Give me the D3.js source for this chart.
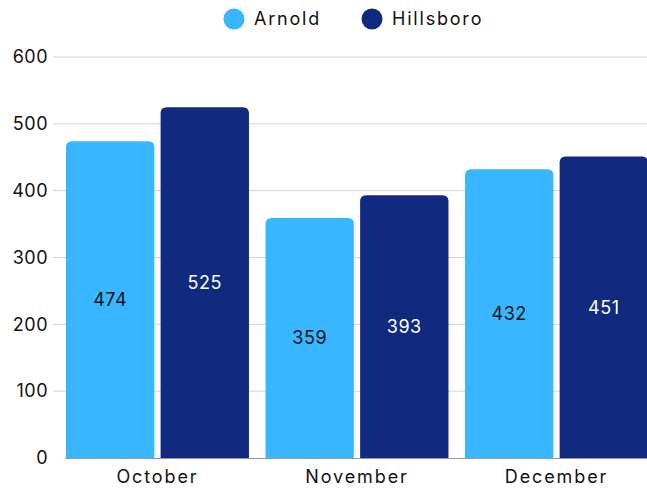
<!DOCTYPE html>
<html><head><meta charset="utf-8">
<script src="https://cdn.jsdelivr.net/npm/d3@7"></script>
<style>body{margin:0;background:#fff;} text{font-family:Inter, "Noto Sans", sans-serif;}</style>
</head><body>
<svg id="c" width="647" height="491"></svg>
<script>
const months = ["October", "November", "December"];
const seriesNames = ["Arnold", "Hillsboro"];
const arnold = [474, 359, 432];
const hillsboro = [525, 393, 451];
const yTicks = [0, 100, 200, 300, 400, 500, 600];
const colors = ["#38b6ff", "#112a7f"];
const labelColors = ["#111111", "#ffffff"];

const svg = d3.select("#c");
const fs = 18;
const y = d3.scaleLinear().domain([0, 600]).range([458, 57]);
const x0 = d3.scaleBand().domain(months).range([66, 648]).paddingInner(0.083).paddingOuter(0);
const x1 = d3.scaleBand().domain(seriesNames).range([0, x0.bandwidth()]).paddingInner(0.066);
const color = d3.scaleOrdinal().domain(seriesNames).range(colors);

// grid
svg.append("g").selectAll("line").data(yTicks.filter(d => d > 0)).join("line")
  .attr("x1", 53).attr("x2", 647).attr("y1", d => y(d)).attr("y2", d => y(d))
  .attr("stroke", "#d3d3d3").attr("stroke-width", 1);

// y labels
const yAxis = d3.axisLeft(y).tickValues(yTicks).tickSize(0).tickPadding(0);
const ya = svg.append("g").attr("transform", "translate(48,0)").call(yAxis);
ya.select(".domain").remove();
ya.selectAll("text").attr("font-size", fs).attr("fill", "#111").attr("font-family", "Inter, sans-serif")
  .attr("letter-spacing", 0.5);

const data = months.map((m, i) => ({month: m, values: [arnold[i], hillsboro[i]]}));

function topRounded(x, yTop, w, h, r) {
  r = Math.min(r, h, w / 2);
  return `M${x},${yTop + h}V${yTop + r}Q${x},${yTop} ${x + r},${yTop}H${x + w - r}Q${x + w},${yTop} ${x + w},${yTop + r}V${yTop + h}Z`;
}

const g = svg.append("g").selectAll("g").data(data).join("g")
  .attr("transform", d => `translate(${x0(d.month)},0)`);
g.selectAll("path").data(d => d.values.map((v, i) => ({s: seriesNames[i], v, i}))).join("path")
  .attr("d", d => topRounded(x1(d.s), y(d.v), x1.bandwidth(), y(0) - y(d.v), 6))
  .attr("fill", d => color(d.s));
g.selectAll("text").data(d => d.values.map((v, i) => ({s: seriesNames[i], v, i}))).join("text")
  .attr("x", d => x1(d.s) + x1.bandwidth() / 2)
  .attr("y", d => (y(d.v) + y(0)) / 2)
  .attr("dy", "0.35em").attr("text-anchor", "middle").attr("font-size", fs).attr("letter-spacing", 0.5)
  .attr("fill", d => labelColors[d.i]).text(d => d.v);

// x axis baseline
svg.append("line").attr("x1", 65).attr("x2", 647).attr("y1", 458.5).attr("y2", 458.5)
  .attr("stroke", "#999").attr("stroke-width", 1);
const xAxis = d3.axisBottom(x0).tickSize(0).tickPadding(0);
const xa = svg.append("g").attr("transform", "translate(0,470)").call(xAxis);
xa.select(".domain").remove();
xa.selectAll("text").attr("font-size", fs).attr("fill", "#111").attr("font-family", "Inter, sans-serif")
  .attr("letter-spacing", 1.9);

// legend
const legend = svg.append("g");
const legX = [234, 372];
seriesNames.forEach((s, i) => {
  legend.append("circle").attr("cx", legX[i]).attr("cy", 19).attr("r", 10.5).attr("fill", colors[i]);
  legend.append("text").attr("x", legX[i] + 20).attr("y", 19).attr("dy", "0.35em")
    .attr("font-size", fs).attr("letter-spacing", 1.8).attr("fill", "#111").text(s);
});
</script>
</body></html>
